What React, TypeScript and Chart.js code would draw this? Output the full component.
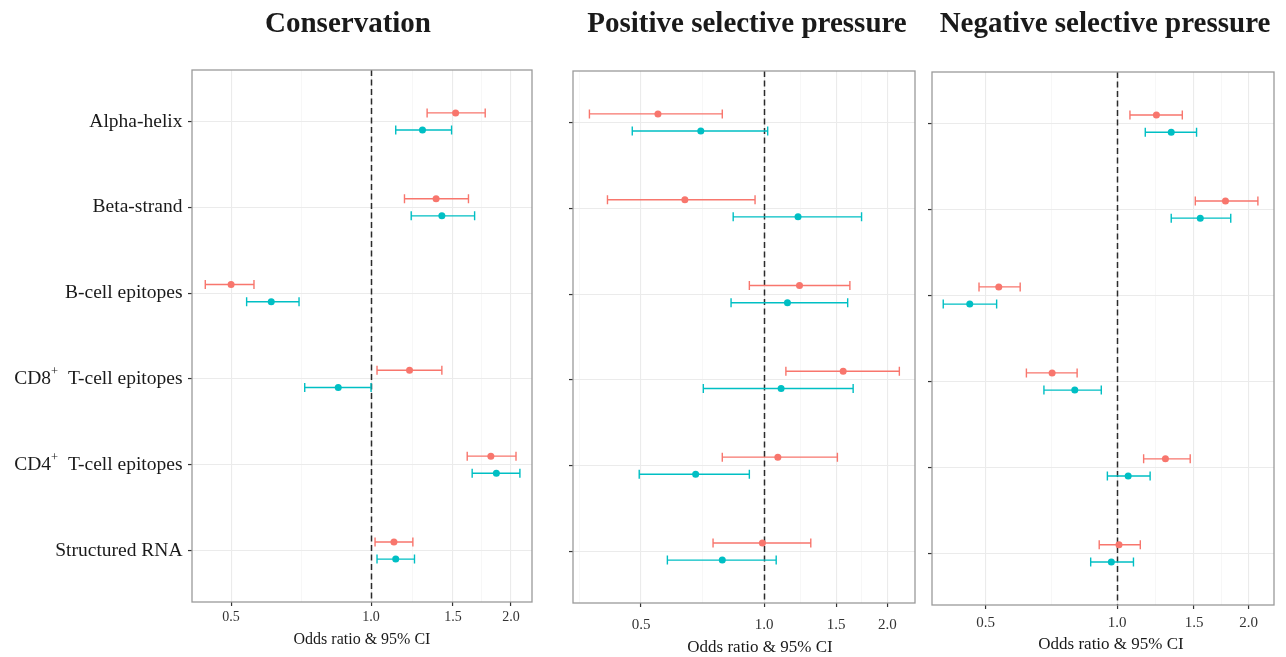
import React, { useEffect, useRef } from 'react';
import { Chart, registerables } from 'chart.js';

Chart.register(...registerables);

const SERIF = '"Liberation Serif", "Times New Roman", serif';

// ---------- data ----------
const categories = [
  'Alpha-helix',
  'Beta-strand',
  'B-cell epitopes',
  'CD8+ T-cell epitopes',
  'CD4+ T-cell epitopes',
  'Structured RNA',
];

const xTickValues = [0.5, 1.0, 1.5, 2.0];
const xMinorValues = [0.354, 0.707, 1.225, 1.732];

const colorA = '#F8766D';
const colorB = '#00BFC4';

// Conservation
const conservationA_or = [1.52, 1.38, 0.5, 1.21, 1.81, 1.12];
const conservationA_lo = [1.32, 1.18, 0.44, 1.03, 1.61, 1.02];
const conservationA_hi = [1.76, 1.62, 0.56, 1.42, 2.05, 1.23];
const conservationB_or = [1.29, 1.42, 0.61, 0.85, 1.86, 1.13];
const conservationB_lo = [1.13, 1.22, 0.54, 0.72, 1.65, 1.03];
const conservationB_hi = [1.49, 1.67, 0.7, 1.0, 2.09, 1.24];

// Positive selective pressure
const positiveA_or = [0.55, 0.64, 1.22, 1.56, 1.08, 0.99];
const positiveA_lo = [0.374, 0.414, 0.92, 1.13, 0.79, 0.75];
const positiveA_hi = [0.79, 0.95, 1.62, 2.14, 1.51, 1.3];
const positiveB_or = [0.7, 1.21, 1.14, 1.1, 0.68, 0.79];
const positiveB_lo = [0.476, 0.84, 0.83, 0.71, 0.495, 0.58];
const positiveB_hi = [1.02, 1.73, 1.6, 1.65, 0.92, 1.07];

// Negative selective pressure
const negativeA_or = [1.23, 1.77, 0.536, 0.71, 1.29, 1.01];
const negativeA_lo = [1.07, 1.51, 0.483, 0.62, 1.15, 0.91];
const negativeA_hi = [1.41, 2.1, 0.6, 0.81, 1.47, 1.13];
const negativeB_or = [1.33, 1.55, 0.46, 0.8, 1.06, 0.97];
const negativeB_lo = [1.16, 1.33, 0.4, 0.68, 0.95, 0.87];
const negativeB_hi = [1.52, 1.82, 0.53, 0.92, 1.19, 1.09];

// ---------- panel layout ----------
type Panel = {
  title: string;
  left: number;
  width: number;
  areaLeft: number;
  padRight: number;
  padTop: number;
  xAxisHeight: number;
  xMin: number;
  xMax: number;
  tickPad: number;
  tickFont: number;
  titleCenter: number;
  axisTitleCenter: number;
  axisTitleY: number;
  axisTitleFont: number;
  showYLabels: boolean;
  A: [number[], number[], number[]];
  B: [number[], number[], number[]];
};

const panels: Panel[] = [
  {
    title: 'Conservation',
    left: 0, width: 545, areaLeft: 192, padRight: 13, padTop: 70, xAxisHeight: 55,
    xMin: 0.412, xMax: 2.219, tickPad: 3, tickFont: 14,
    titleCenter: 348, axisTitleCenter: 362, axisTitleY: 640, axisTitleFont: 16,
    showYLabels: true,
    A: [conservationA_or, conservationA_lo, conservationA_hi],
    B: [conservationB_or, conservationB_lo, conservationB_hi],
  },
  {
    title: 'Positive selective pressure',
    left: 545, width: 375, areaLeft: 28, padRight: 5, padTop: 71, xAxisHeight: 54,
    xMin: 0.341, xMax: 2.337, tickPad: 9, tickFont: 15,
    titleCenter: 747, axisTitleCenter: 760, axisTitleY: 648, axisTitleFont: 17,
    showYLabels: false,
    A: [positiveA_or, positiveA_lo, positiveA_hi],
    B: [positiveB_or, positiveB_lo, positiveB_hi],
  },
  {
    title: 'Negative selective pressure',
    left: 920, width: 366, areaLeft: 12, padRight: 12, padTop: 72, xAxisHeight: 52,
    xMin: 0.377, xMax: 2.286, tickPad: 5, tickFont: 15,
    titleCenter: 1105, axisTitleCenter: 1111, axisTitleY: 645, axisTitleFont: 17,
    showYLabels: false,
    A: [negativeA_or, negativeA_lo, negativeA_hi],
    B: [negativeB_or, negativeB_lo, negativeB_hi],
  },
];

const isMajor = (v: number) => xTickValues.some((t) => Math.abs(t - v) < 1e-6);

const forestPlugin = {
  id: 'forest',
  beforeDatasetsDraw(chart: any) {
    const { ctx, chartArea } = chart;
    const x = chart.scales.x;
    const y = chart.scales.y;
    ctx.save();
    ctx.beginPath();
    ctx.rect(chartArea.left, chartArea.top, chartArea.right - chartArea.left, chartArea.bottom - chartArea.top);
    ctx.clip();
    // reference line at OR = 1
    const px = Math.round(x.getPixelForValue(1)) + 0.5;
    ctx.strokeStyle = '#2b2b2b';
    ctx.lineWidth = 1.5;
    ctx.setLineDash([6, 3.5]);
    ctx.beginPath();
    ctx.moveTo(px, chartArea.top);
    ctx.lineTo(px, chartArea.bottom);
    ctx.stroke();
    ctx.setLineDash([]);
    // error bars
    chart.data.datasets.forEach((ds: any) => {
      ctx.strokeStyle = ds.backgroundColor;
      ctx.lineWidth = 1.4;
      ds.data.forEach((pt: any, i: number) => {
        const py = y.getPixelForValue(pt.y);
        const x1 = x.getPixelForValue(ds.lo[i]);
        const x2 = x.getPixelForValue(ds.hi[i]);
        ctx.beginPath();
        ctx.moveTo(x1, py);
        ctx.lineTo(x2, py);
        ctx.moveTo(x1, py - 4.5);
        ctx.lineTo(x1, py + 4.5);
        ctx.moveTo(x2, py - 4.5);
        ctx.lineTo(x2, py + 4.5);
        ctx.stroke();
      });
    });
    ctx.restore();
  },
  afterDraw(chart: any, _args: any, opts: any) {
    const { ctx, chartArea } = chart;
    const p: Panel = opts.panel;
    ctx.save();
    // panel border
    ctx.strokeStyle = '#9a9a9a';
    ctx.lineWidth = 1.3;
    ctx.strokeRect(chartArea.left, chartArea.top, chartArea.right - chartArea.left, chartArea.bottom - chartArea.top);
    // title
    ctx.fillStyle = '#1a1a1a';
    ctx.font = `bold 29px ${SERIF}`;
    ctx.textAlign = 'center';
    ctx.textBaseline = 'middle';
    ctx.fillText(p.title, p.titleCenter - p.left, 25);
    // axis title
    ctx.font = `${p.axisTitleFont}px ${SERIF}`;
    ctx.fillText('Odds ratio & 95% CI', p.axisTitleCenter - p.left, p.axisTitleY);
    // y labels
    if (p.showYLabels) {
      const y = chart.scales.y;
      const right = chartArea.left - 9.5;
      ctx.textBaseline = 'middle';
      ctx.textAlign = 'left';
      categories.forEach((label, i) => {
        const py = y.getPixelForValue(i + 1);
        const m = label.match(/^(CD\d)\+ (.*)$/);
        const mainFont = `19.5px ${SERIF}`;
        const supFont = `12.5px ${SERIF}`;
        if (m) {
          const parts = [
            { t: m[1], f: mainFont, dy: 0 },
            { t: '+', f: supFont, dy: -7 },
            { t: '  ' + m[2], f: mainFont, dy: 0 },
          ];
          let total = 0;
          parts.forEach((pt) => { ctx.font = pt.f; total += ctx.measureText(pt.t).width; });
          let cx = right - total;
          parts.forEach((pt) => {
            ctx.font = pt.f;
            ctx.fillText(pt.t, cx, py + pt.dy);
            cx += ctx.measureText(pt.t).width;
          });
        } else {
          ctx.font = mainFont;
          const w = ctx.measureText(label).width;
          ctx.fillText(label, right - w, py);
        }
      });
    }
    ctx.restore();
  },
};

function buildConfig(p: Panel): any {
  const mk = (vals: [number[], number[], number[]], color: string, offset: number, name: string) => ({
    type: 'scatter',
    label: name,
    data: vals[0].map((v, i) => ({ x: v, y: i + 1 + offset })),
    lo: vals[1],
    hi: vals[2],
    backgroundColor: color,
    borderColor: color,
    borderWidth: 0,
    pointRadius: 3.5,
    pointHoverRadius: 3.5,
  });
  return {
    type: 'scatter',
    data: {
      datasets: [mk(p.A, colorA, -0.1, 'A'), mk(p.B, colorB, 0.1, 'B')],
    },
    options: {
      animation: false,
      responsive: false,
      events: [],
      layout: { padding: { top: p.padTop, right: p.padRight, bottom: 0, left: 0 } },
      plugins: {
        legend: { display: false },
        tooltip: { enabled: false },
        title: { display: false },
        forest: { panel: p },
      },
      scales: {
        x: {
          type: 'logarithmic',
          position: 'bottom',
          bounds: 'data',
          min: p.xMin,
          max: p.xMax,
          afterBuildTicks: (scale: any) => {
            scale.min = p.xMin;
            scale.max = p.xMax;
            const vals = [...xMinorValues, ...xTickValues]
              .filter((v) => v >= p.xMin && v <= p.xMax)
              .sort((a, b) => a - b);
            scale.ticks = vals.map((v) => ({ value: v }));
          },
          afterFit: (scale: any) => {
            scale.height = p.xAxisHeight;
          },
          border: { display: false },
          grid: {
            color: (c: any) => (c.tick && isMajor(c.tick.value) ? '#EBEBEB' : '#F5F5F5'),
            lineWidth: (c: any) => (c.tick && isMajor(c.tick.value) ? 1.1 : 0.8),
            drawTicks: true,
            tickLength: 4,
            tickColor: (c: any) => (c.tick && isMajor(c.tick.value) ? '#333333' : 'rgba(0,0,0,0)'),
            tickWidth: 1.2,
          },
          ticks: {
            autoSkip: false,
            maxRotation: 0,
            padding: p.tickPad,
            color: '#333333',
            font: { family: SERIF, size: p.tickFont },
            callback: (v: any) => (isMajor(Number(v)) ? Number(v).toFixed(1) : ''),
          },
        },
        y: {
          type: 'linear',
          position: 'left',
          reverse: true,
          min: 0.4,
          max: 6.6,
          afterBuildTicks: (scale: any) => {
            scale.ticks = categories.map((_, i) => ({ value: i + 1 }));
          },
          afterFit: (scale: any) => {
            scale.width = p.areaLeft;
          },
          border: { display: false },
          grid: {
            color: '#EBEBEB',
            lineWidth: 1.1,
            drawTicks: true,
            tickLength: 4,
            tickColor: '#333333',
            tickWidth: 1.2,
          },
          ticks: { display: false },
        },
      },
    },
    plugins: [forestPlugin],
  };
}

function PanelChart({ p }: { p: Panel }) {
  const ref = useRef<HTMLCanvasElement | null>(null);
  useEffect(() => {
    if (!ref.current) return;
    const chart = new Chart(ref.current, buildConfig(p));
    return () => chart.destroy();
  }, [p]);
  return (
    <canvas
      ref={ref}
      width={p.width}
      height={657}
      style={{ position: 'absolute', left: p.left, top: 0, width: p.width, height: 657 }}
    />
  );
}

export default function App() {
  return (
    <div style={{ position: 'absolute', left: 0, top: 0, width: 1286, height: 657, background: '#ffffff', overflow: 'hidden' }}>
      {panels.map((p) => (
        <PanelChart key={p.title} p={p} />
      ))}
    </div>
  );
}
